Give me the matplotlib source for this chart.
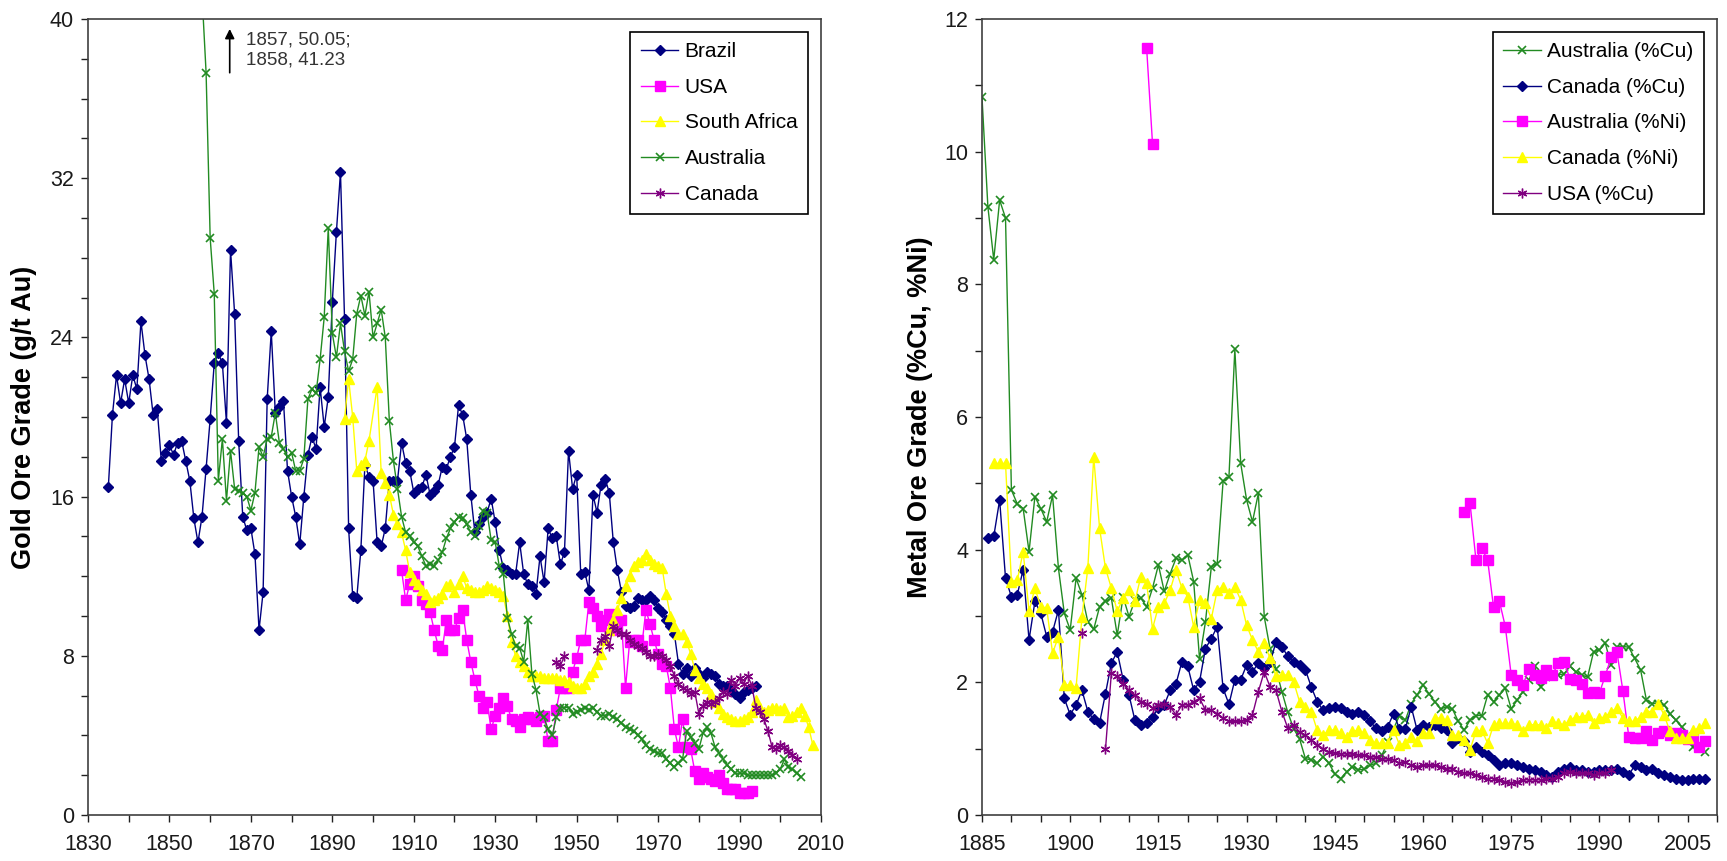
import numpy as np
import matplotlib.pyplot as plt
from matplotlib.ticker import MultipleLocator

plt.rcParams['font.family'] = ['Liberation Sans', 'DejaVu Sans']

# ---------------- gold ore grades (g/t Au) ----------------
brazil_start = 1835
brazil = [16.5, 20.1, 22.1, 20.7, 21.9,
          20.7, 22.1, 21.4, 24.8, 23.1, 21.9, 20.1, 20.4, 17.8, 18.2,
          18.6, 18.1, 18.7, 18.8, 17.8, 16.8, 14.9, 13.7, 15.0, 17.4,
          19.9, 22.7, 23.2, 22.7, 19.7, 28.4, 25.2, 18.8, 15.0, 14.3,
          14.4, 13.1, 9.3, 11.2, 20.9, 24.3, 20.2, 20.5, 20.8, 17.3,
          16.0, 15.0, 13.6, 16.0, 18.1, 19.0, 18.4, 21.5, 19.5, 21.0,
          25.8, 29.3, 32.3, 24.9, 14.4, 11.0, 10.9, 13.3, 17.6, 17.0,
          16.8, 13.7, 13.5, 14.4, 16.8, 16.8, 16.8, 18.7, 17.7, 17.3,
          16.2, 16.4, 16.5, 17.1, 16.1, 16.3, 16.6, 17.5, 17.4, 18.0,
          18.5, 20.6, 20.1, 18.9, 16.1, 14.2, 14.6, 15.0, 15.2, 15.9,
          14.7, 13.3, 12.4, 12.3, 12.1, 12.1, 13.7, 12.1, 11.6, 11.5,
          11.1, 13.0, 11.7, 14.4, 13.9, 14.0, 12.6, 13.2, 18.3, 16.4,
          17.1, 12.1, 12.2, 11.3, 16.1, 15.2, 16.6, 16.9, 16.2, 13.7,
          12.3, 11.2, 10.5, 10.4, 10.5, 10.9, 10.8, 10.8, 11.0, 10.8,
          10.4, 10.2, 9.8, 9.5, 9.1, 7.6, 7.1, 7.4, 7.0, 7.4,
          7.1, 6.9, 7.2, 7.1, 7.0, 6.6, 6.5, 6.5, 6.3, 6.1,
          5.9, 6.2, 6.3, 6.4, 6.5]

usa_start = 1907
usa = [12.3, 10.8, 11.6,
       12.0, 11.5, 10.8, 10.6, 10.2, 9.3, 8.5, 8.3, 9.8, 9.3,
       9.3, 9.9, 10.3, 8.8, 7.7, 6.8, 6.0, 5.4, 5.7, 4.3,
       5.0, 5.4, 5.9, 5.5, 4.8, 4.7, 4.4, 4.8, 4.9, 4.8,
       4.7, 4.9, 5.0, 3.7, 3.7, 5.3, 6.4, 6.4, 6.4, 7.2,
       7.9, 8.8, 8.8, 10.7, 10.4, 10.0, 9.5, 9.8, 10.1, 9.9,
       9.3, 9.8, 6.4, 8.7, 8.8, 8.8, 8.5, 10.3, 9.6, 8.8,
       8.1, 7.6, 7.5, 6.4, 4.3, 3.4, 4.8, 3.4, 3.3, 2.2,
       1.8, 2.1, 1.9, 1.8, 1.7, 2.0, 1.6, 1.3, 1.3, 1.3,
       1.1, 1.1, 1.1, 1.2]

# no South African value for 1900
sa_years = list(range(1893, 1900)) + list(range(1901, 2009))
south_africa = [19.9, 21.9, 20.0, 17.3, 17.6, 17.8, 18.8,
                21.5, 17.2, 16.7, 16.1, 15.1, 14.6, 14.2, 13.3, 12.2,
                11.8, 11.6, 11.3, 11.1, 10.7, 10.8, 10.9, 11.1, 11.5, 11.6,
                11.2, 11.6, 12.0, 11.4, 11.3, 11.2, 11.2, 11.3, 11.5, 11.4,
                11.3, 11.2, 11.0, 10.0, 8.7, 8.0, 7.7, 7.5, 7.2, 7.0,
                7.0, 7.0, 6.9, 6.9, 6.9, 6.9, 6.8, 6.8, 6.7, 6.5,
                6.4, 6.4, 6.6, 7.0, 7.2, 7.6, 8.1, 8.8, 9.3, 9.8,
                10.3, 10.9, 11.5, 12.0, 12.5, 12.7, 12.8, 13.1, 12.8, 12.6,
                12.5, 12.4, 11.1, 10.0, 9.5, 9.1, 9.1, 8.7, 8.1, 7.3,
                6.9, 6.6, 6.4, 6.1, 5.7, 5.4, 5.1, 4.9, 4.8, 4.7,
                4.7, 4.8, 4.9, 5.2, 5.8, 5.4, 5.2, 5.3, 5.4, 5.4,
                5.3, 5.4, 4.9, 5.0, 5.2, 5.4, 5.0, 4.4, 3.5]

australia_start = 1857
australia = [50.05, 41.23, 37.3,
             29.0, 26.2, 16.8, 18.9, 15.8, 18.3, 16.4, 16.3, 16.2, 16.0,
             15.3, 16.2, 18.5, 18.0, 18.9, 19.0, 20.2, 18.7, 18.4, 18.0,
             18.2, 17.3, 17.3, 17.9, 20.9, 21.4, 21.2, 22.9, 25.0, 29.5,
             24.2, 23.0, 24.7, 23.3, 22.3, 22.9, 25.2, 26.1, 25.1, 26.3,
             24.0, 24.7, 25.4, 24.0, 19.8, 17.8, 16.4, 15.0, 14.2, 14.0,
             13.7, 13.5, 13.0, 12.5, 12.6, 12.5, 12.8, 13.2, 13.9, 14.4,
             14.7, 15.0, 14.9, 14.6, 14.2, 14.0, 14.5, 15.3, 15.2, 13.8,
             13.7, 12.5, 12.1, 9.9, 9.1, 8.5, 8.4, 7.7, 9.8, 7.1,
             6.3, 5.1, 4.9, 4.3, 4.0, 4.9, 5.4, 5.4, 5.4, 5.1,
             5.2, 5.3, 5.4, 5.3, 5.4, 5.2, 5.0, 5.0, 5.1, 4.9,
             4.8, 4.6, 4.4, 4.3, 4.2, 4.0, 3.8, 3.5, 3.3, 3.2,
             3.1, 3.1, 2.8, 2.6, 2.4, 2.6, 2.8, 4.2, 3.9, 3.6,
             3.3, 4.1, 4.4, 4.1, 3.4, 3.1, 2.8, 2.5, 2.3, 2.1,
             2.1, 2.1, 2.0, 2.0, 2.0, 2.0, 2.0, 2.0, 2.0, 2.1,
             2.3, 2.8, 2.4, 2.3, 2.1, 1.9]

# Canadian series has no values for 1948-1954
canada_years = [1945, 1946, 1947, 1948] + list(range(1955, 2005))
canada = [7.7, 7.5, 8.0, np.nan,
          8.3, 8.8, 9.0, 8.5, 9.5,
          9.3, 9.1, 9.1, 8.8, 8.6, 8.5, 8.4, 8.2, 8.0, 8.0,
          8.1, 8.0, 7.8, 7.5, 7.0, 6.6, 6.4, 6.3, 6.1, 6.2,
          5.1, 5.5, 5.7, 5.6, 5.7, 5.9, 6.2, 6.1, 6.8, 6.5,
          6.9, 6.6, 7.0, 6.5, 5.4, 5.2, 4.8, 4.2, 3.4, 3.3,
          3.5, 3.4, 3.2, 3.0, 2.8]

# ---------------- base metal ore grades (%Cu, %Ni) ----------------
au_cu_start = 1885
au_cu = [10.82, 9.17, 8.37, 9.27, 9.0,
         4.9, 4.69, 4.62, 3.97, 4.8, 4.62, 4.42, 4.82, 3.72, 3.04,
         2.79, 3.57, 3.32, 2.91, 2.8, 3.14, 3.22, 3.27, 2.71, 3.29,
         2.99, 3.24, 3.27, 3.14, 3.42, 3.77, 3.37, 3.64, 3.87, 3.84,
         3.92, 3.52, 2.35, 2.91, 3.74, 3.79, 5.03, 5.1, 7.02, 5.3,
         4.75, 4.42, 4.85, 2.99, 2.5, 2.2, 1.86, 1.55, 1.3, 1.15,
         0.85, 0.83, 0.78, 0.88, 0.78, 0.62, 0.55, 0.65, 0.73, 0.68,
         0.69, 0.75, 0.78, 0.9, 1.1, 1.3, 1.5, 1.43, 1.68, 1.81,
         1.96, 1.83, 1.71, 1.6, 1.63, 1.6, 1.41, 1.28, 1.43, 1.5,
         1.5, 1.81, 1.71, 1.81, 1.91, 1.6, 1.73, 1.86, 2.03, 2.24,
         1.93, 2.08, 2.13, 2.11, 2.13, 2.24, 2.16, 2.11, 2.08, 2.46,
         2.49, 2.59, 2.26, 2.54, 2.54, 2.53, 2.36, 2.19, 1.73, 1.68,
         1.68, 1.66, 1.53, 1.43, 1.33, 1.2, 1.03, 1.06, 0.95]

ca_cu_start = 1886
ca_cu = [4.17, 4.2, 4.75, 3.57,
         3.29, 3.32, 3.7, 2.64, 3.22, 3.04, 2.69, 2.76, 3.09, 1.76,
         1.51, 1.66, 1.88, 1.56, 1.44, 1.39, 1.83, 2.29, 2.46, 2.04,
         1.81, 1.43, 1.36, 1.38, 1.48, 1.61, 1.66, 1.88, 1.98, 2.31,
         2.24, 1.88, 2.01, 2.51, 2.66, 2.84, 1.91, 1.67, 2.04, 2.04,
         2.26, 2.16, 2.29, 2.21, 2.3, 2.61, 2.54, 2.39, 2.31, 2.26,
         2.19, 1.93, 1.71, 1.58, 1.61, 1.63, 1.61, 1.56, 1.53, 1.56,
         1.51, 1.41, 1.31, 1.26, 1.33, 1.53, 1.3, 1.3, 1.63, 1.28,
         1.36, 1.33, 1.36, 1.31, 1.28, 1.08, 1.16, 1.11, 0.95, 1.03,
         0.95, 0.9, 0.83, 0.75, 0.78, 0.78, 0.75, 0.73, 0.7, 0.68,
         0.65, 0.6, 0.58, 0.65, 0.7, 0.73, 0.68, 0.68, 0.65, 0.65,
         0.68, 0.68, 0.68, 0.7, 0.65, 0.6, 0.75, 0.73, 0.68, 0.7,
         0.63, 0.6, 0.58, 0.55, 0.53, 0.53, 0.55, 0.55, 0.54]

# Australian nickel: 1913-14, then nothing until 1967
au_ni_years = [1913, 1914, 1915] + list(range(1967, 2009))
au_ni = [11.56, 10.12, np.nan,
         4.57, 4.7, 3.85,
         4.02, 3.84, 3.13, 3.22, 2.84, 2.11, 2.04, 1.96, 2.2, 2.11,
         2.06, 2.19, 2.11, 2.29, 2.31, 2.05, 2.04, 1.98, 1.84, 1.86,
         1.84, 2.1, 2.38, 2.45, 1.87, 1.18, 1.16, 1.16, 1.26, 1.13,
         1.23, 1.26, 1.2, 1.23, 1.2, 1.15, 1.16, 1.03, 1.11]

ca_ni_start = 1887
ca_ni = [5.3, 5.3, 5.3,
         3.52, 3.54, 3.97, 3.07, 3.42, 3.14, 3.12, 2.44, 2.69, 1.96,
         1.96, 1.92, 2.99, 3.72, 5.4, 4.32, 3.72, 3.42, 3.07, 3.27,
         3.39, 3.22, 3.59, 3.49, 2.81, 3.14, 3.19, 3.39, 3.69, 3.42,
         3.29, 2.84, 3.24, 3.19, 2.96, 3.39, 3.44, 3.34, 3.44, 3.24,
         2.86, 2.64, 2.46, 2.59, 2.36, 2.09, 2.11, 2.11, 2.01, 1.71,
         1.63, 1.56, 1.28, 1.2, 1.28, 1.28, 1.23, 1.18, 1.26, 1.28,
         1.23, 1.13, 1.08, 1.08, 1.08, 1.28, 1.06, 1.08, 1.18, 1.11,
         1.23, 1.23, 1.46, 1.46, 1.43, 1.2, 1.2, 1.13, 0.98, 1.26,
         1.28, 1.08, 1.36, 1.38, 1.38, 1.38, 1.36, 1.26, 1.36, 1.36,
         1.36, 1.31, 1.41, 1.38, 1.36, 1.43, 1.48, 1.48, 1.51, 1.38,
         1.46, 1.48, 1.56, 1.61, 1.46, 1.41, 1.41, 1.48, 1.56, 1.56,
         1.68, 1.51, 1.26, 1.16, 1.16, 1.16, 1.28, 1.31, 1.38]

# USA copper: lone 1902 value, then 1906-1992
us_cu_years = [1902, 1903] + list(range(1906, 1993))
us_cu = [2.74, np.nan,
         0.99, 2.14, 2.09, 1.98,
         1.88, 1.81, 1.71, 1.68, 1.61, 1.66, 1.68, 1.63, 1.51, 1.66,
         1.66, 1.71, 1.76, 1.58, 1.58, 1.53, 1.46, 1.41, 1.41, 1.41,
         1.43, 1.51, 1.86, 2.16, 1.93, 1.88, 1.56, 1.31, 1.36, 1.25,
         1.2, 1.13, 1.06, 1.0, 0.95, 0.93, 0.92, 0.92, 0.92, 0.9,
         0.9, 0.88, 0.87, 0.84, 0.85, 0.83, 0.78, 0.8, 0.75, 0.73,
         0.75, 0.75, 0.75, 0.73, 0.7, 0.7, 0.65, 0.63, 0.63, 0.6,
         0.58, 0.55, 0.55, 0.53, 0.5, 0.48, 0.5, 0.53, 0.53, 0.53,
         0.53, 0.55, 0.55, 0.58, 0.63, 0.65, 0.63, 0.63, 0.63, 0.6,
         0.63, 0.63, 0.68]

NAVY = '#000080'
MAGENTA = '#FF00FF'
YELLOW = '#FFFF00'
GREEN = '#228B22'
PURPLE = '#800080'
ASTERISK = (6, 2, 0)


def yrs(start, vals):
    return np.arange(start, start + len(vals))


def draw(ax, x, y, color, marker, ms, label, mew=1.0):
    ax.plot(x, y, color=color, lw=1.0, marker=marker, ms=ms,
            mfc=color, mec=color, mew=mew, label=label, clip_on=True)


def style(ax):
    for s in ax.spines.values():
        s.set_color('#404040')
        s.set_linewidth(1.2)
    ax.tick_params(which='both', direction='out', length=5, width=1.0,
                   color='#202020', labelsize=15.5, labelcolor='#1a1a1a',
                   top=False, right=False)
    ax.tick_params(axis='x', which='both', pad=9)
    ax.tick_params(axis='y', which='both', pad=5)


def add_legend(ax):
    leg = ax.legend(loc='upper right', bbox_to_anchor=(0.982, 0.984),
                    fontsize=15, frameon=True, fancybox=False,
                    edgecolor='black', framealpha=1, borderaxespad=0,
                    numpoints=1, handlelength=1.8, handletextpad=0.3,
                    labelspacing=0.8, borderpad=0.5)
    leg.get_frame().set_linewidth(1.2)


fig = plt.figure(figsize=(17.27, 8.61), dpi=100)
ax1 = fig.add_axes([88 / 1727, 46 / 861, 733 / 1727, 796 / 861])
ax2 = fig.add_axes([982 / 1727, 46 / 861, 735 / 1727, 796 / 861])

# left panel: gold
draw(ax1, yrs(brazil_start, brazil), brazil, NAVY, 'D', 4.8, 'Brazil')
draw(ax1, yrs(usa_start, usa), usa, MAGENTA, 's', 6.5, 'USA')
draw(ax1, sa_years, south_africa, YELLOW, '^', 7, 'South Africa')
draw(ax1, yrs(australia_start, australia), australia, GREEN, 'x', 6, 'Australia', mew=1.2)
draw(ax1, canada_years, canada, PURPLE, ASTERISK, 7, 'Canada')

ax1.set_xlim(1830, 2010)
ax1.set_ylim(0, 40)
ax1.set_xticks(list(range(1830, 2011, 20)))
ax1.xaxis.set_minor_locator(MultipleLocator(10))
ax1.yaxis.set_major_locator(MultipleLocator(8))
ax1.yaxis.set_minor_locator(MultipleLocator(2))
ax1.set_ylabel('Gold Ore Grade (g/t Au)', fontsize=19.5, fontweight='bold')
ax1.yaxis.set_label_coords(-0.07, 0.5)
style(ax1)

ax1.annotate('', xy=(1864.8, 39.5), xytext=(1864.8, 37.3),
             arrowprops=dict(arrowstyle='-|>', color='black', lw=1.2,
                             mutation_scale=14, shrinkA=0, shrinkB=0))
ax1.text(1868.9, 39.35, '1857, 50.05;\n1858, 41.23', fontsize=13.5,
         va='top', ha='left', color='#333333', linespacing=1.2)
add_legend(ax1)

# right panel: copper / nickel
draw(ax2, yrs(au_cu_start, au_cu), au_cu, GREEN, 'x', 6, 'Australia (%Cu)', mew=1.2)
draw(ax2, yrs(ca_cu_start, ca_cu), ca_cu, NAVY, 'D', 4.8, 'Canada (%Cu)')
draw(ax2, au_ni_years, au_ni, MAGENTA, 's', 6.5, 'Australia (%Ni)')
draw(ax2, yrs(ca_ni_start, ca_ni), ca_ni, YELLOW, '^', 7, 'Canada (%Ni)')
draw(ax2, us_cu_years, us_cu, PURPLE, ASTERISK, 7, 'USA (%Cu)')

ax2.set_xlim(1885, 2010)
ax2.set_ylim(0, 12)
ax2.set_xticks(list(range(1885, 2006, 15)))
ax2.xaxis.set_minor_locator(MultipleLocator(5))
ax2.yaxis.set_major_locator(MultipleLocator(2))
ax2.yaxis.set_minor_locator(MultipleLocator(1))
ax2.set_ylabel('Metal Ore Grade (%Cu, %Ni)', fontsize=19.5, fontweight='bold')
ax2.yaxis.set_label_coords(-0.067, 0.5)
style(ax2)
add_legend(ax2)

fig.savefig('out.png', dpi=100)
